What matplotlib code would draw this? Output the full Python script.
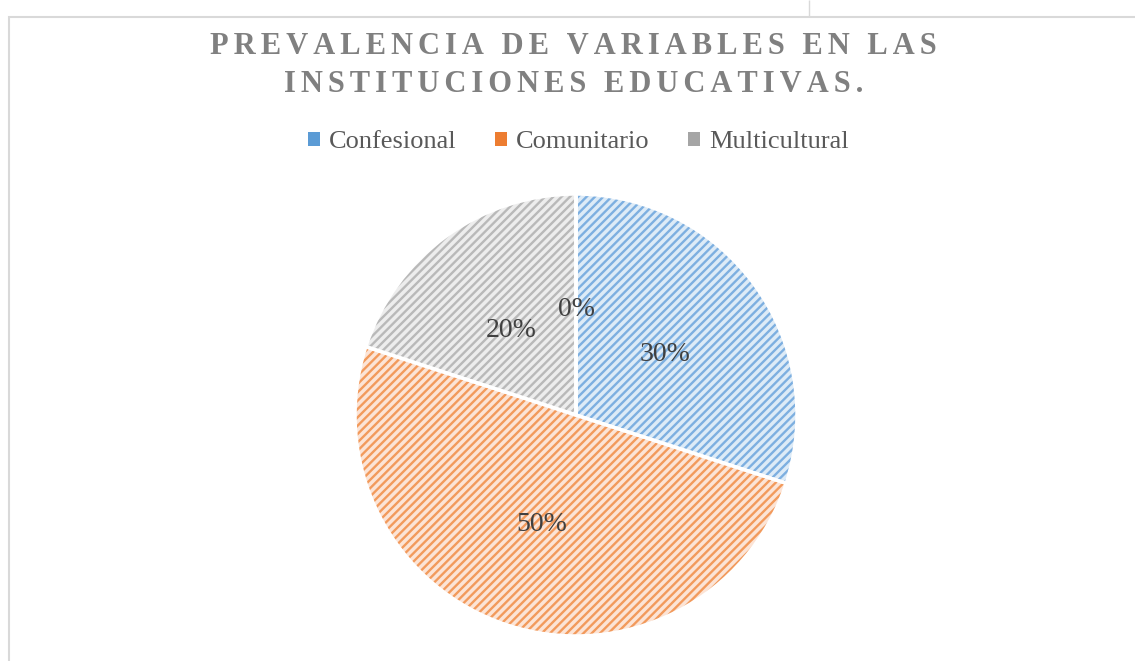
import matplotlib.pyplot as plt
from matplotlib.patches import Rectangle

# datos
categorias = ["Confesional", "Comunitario", "Multicultural", ""]
valores = [30, 50, 20, 0]
colores = ["#5B9BD5", "#ED7D31", "#A5A5A5", "#FFC000"]
rayas = ["#7DAFE0", "#F29A5C", "#B9B9B9", "#FFC000"]
claros = ["#DDEBF7", "#FCE4D6", "#EDEDED", "#FFF0C0"]

plt.rcParams['font.family'] = ['Liberation Serif', 'DejaVu Serif']
plt.rcParams['hatch.linewidth'] = 1.7

fig = plt.figure(figsize=(11.35, 6.61), dpi=100)
W, H = 1135, 661

# marco del grafico
fig.patches.append(Rectangle((9 / W, -0.01), 1.1, (661 - 17) / H + 0.01,
                             transform=fig.transFigure, fill=False,
                             edgecolor="#D9D9D9", linewidth=1.5))
fig.patches.append(Rectangle((809 / W, 1 - 16 / H), 0.0, 16 / H,
                             transform=fig.transFigure, fill=False,
                             edgecolor="#D9D9D9", linewidth=1))

def espaciado(s):
    return "\u200a\u200a".join(s)

fig.text(573 / W, 1 - 46 / H, espaciado("PREVALENCIA DE VARIABLES EN LAS"),
         ha="center", va="center", fontsize=22, fontweight="bold", color="#808080")
fig.text(574 / W, 1 - 84 / H, espaciado("INSTITUCIONES EDUCATIVAS."),
         ha="center", va="center", fontsize=22, fontweight="bold", color="#808080")

ax = fig.add_axes([(576 - 221) / W, (661 - 415 - 221) / H, 442 / W, 442 / H])

wedges, textos, autotextos = ax.pie(
    valores, colors=claros, startangle=90, counterclock=False,
    autopct="%1.0f%%", pctdistance=0.5, radius=1,
    wedgeprops=dict(linewidth=0))
for w, c in zip(wedges, rayas):
    w.set_hatch("////")
    w.set_edgecolor(c)
for t in autotextos:
    t.set_fontsize(20)
    t.set_color("#404040")
    x, y = t.get_position()
    t.set_position((x, y - 0.022))

bordes, _ = ax.pie(valores, colors=["none"] * 4, startangle=90, counterclock=False,
                   radius=1, wedgeprops=dict(linewidth=2.5, edgecolor="white"))
ax.set_xlim(-1, 1)
ax.set_ylim(-1, 1)
ax.set_aspect("equal")

leg = fig.legend(wedges[:3], categorias[:3], loc="center", ncol=3,
                 bbox_to_anchor=(578 / W, 1 - 142 / H), frameon=False,
                 fontsize=19, handlelength=0.45, handleheight=0.45,
                 handletextpad=0.35, columnspacing=1.45, labelcolor="#595959")
for h, c in zip(leg.legend_handles, colores):
    h.set_hatch(None)
    h.set_facecolor(c)
    h.set_edgecolor(c)

fig.savefig("out.png", dpi=100)
